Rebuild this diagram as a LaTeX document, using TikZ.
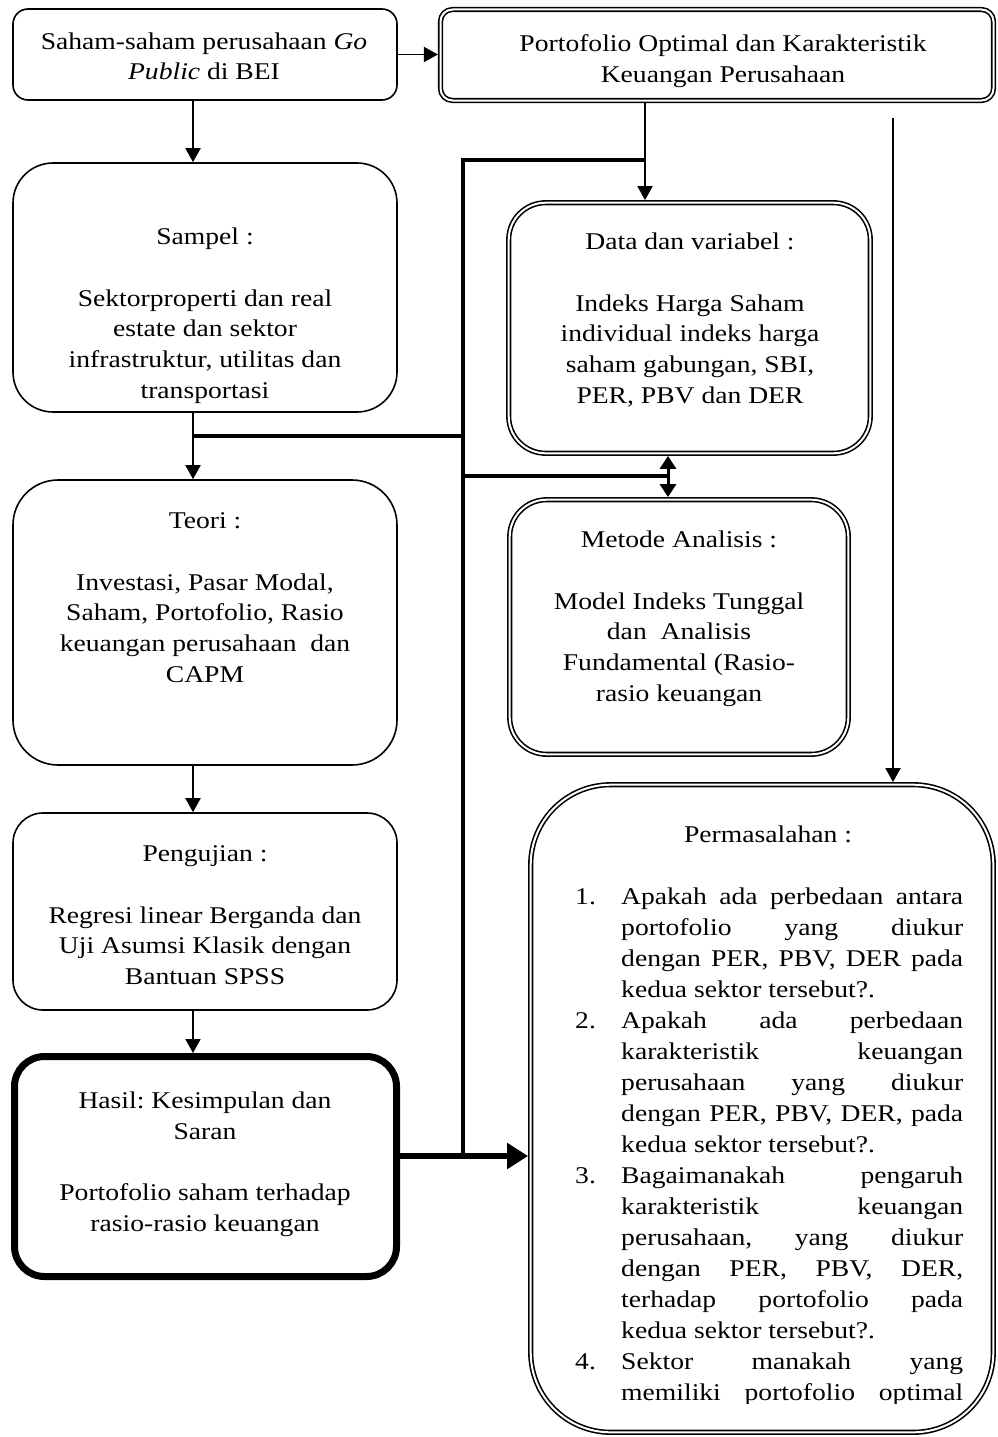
\documentclass[tikz,border=0pt]{standalone}
\usepackage{fontspec}
\setmainfont{Liberation Serif}[FakeStretch=1.15]
\usetikzlibrary{arrows.meta}
\frenchspacing
\newcommand\firstln{\rule{0pt}{20pt}}
\newcommand\jline[1]{\makebox[342pt][s]{#1}}
\newcommand\lline[1]{\makebox[342pt][l]{#1}}
\newcommand\indnt{\hspace*{46pt}}
\newcommand\numb[1]{\makebox[46pt][l]{#1}}
\begin{document}
\begin{tikzpicture}[x=1pt,y=-1pt,
  box/.style={draw, line width=1.6pt, rounded corners=#1, inner sep=0pt, outer sep=0.8pt},
  dbox/.style={draw, double, double distance=2pt, line width=1.6pt, rounded corners=#1, inner sep=0pt, outer sep=2.6pt},
  hbox/.style={draw, line width=7pt, rounded corners=#1, inner sep=0pt, outer sep=3.5pt},
  txt/.style={font=\fontsize{24}{30.8}\selectfont, align=center, inner sep=0pt, anchor=north},
  lst/.style={font=\fontsize{24}{31}\selectfont, align=left, inner sep=0pt, anchor=north west},
  arr/.style={line width=1.9pt, -{Triangle[length=14pt,width=15pt]}},
  bus/.style={line width=4pt},
  darr/.style={line width=3pt, {Triangle[length=13pt,width=16pt]}-{Triangle[length=13pt,width=16pt]}},
  bigarr/.style={line width=6.5pt, -{Triangle[length=21pt,width=25pt]}}
]
\useasboundingbox (0,0) rectangle (997,1437);

% boxes
\node[box=15pt, minimum width=384pt, minimum height=91pt] (b1) at (205,54.5) {};
\node[dbox=12pt, minimum width=553pt, minimum height=91pt] (b2) at (717,55) {};
\node[box=40pt, minimum width=384pt, minimum height=249pt] (sampel) at (205,287.5) {};
\node[box=45pt, minimum width=384pt, minimum height=285pt] (teori) at (205,622.5) {};
\node[box=30pt, minimum width=384pt, minimum height=197pt] (peng) at (205,911.5) {};
\node[hbox=30pt, minimum width=382pt, minimum height=220pt] (hasil) at (205.5,1166.5) {};
\node[dbox=37pt, minimum width=361.6pt, minimum height=250.6pt] (data) at (689.5,328) {};
\node[dbox=37pt, minimum width=338.6pt, minimum height=254.6pt] (metode) at (679,627) {};
\node[dbox=80pt, minimum width=462.6pt, minimum height=647.6pt] (perm) at (762,1108.5) {};

% texts
\node[txt] (t1) at (204,29) {\firstln Saham-saham perusahaan \textit{Go}\\\textit{Public} di BEI};
\node[txt] (t2) at (723,31) {\firstln Portofolio Optimal dan Karakteristik\\Keuangan Perusahaan};
\node[txt] (t3) at (205,224) {\firstln Sampel :\\[31pt]Sektorproperti dan real\\estate dan sektor\\infrastruktur, utilitas dan\\transportasi};
\node[txt] (t4) at (205,508) {\firstln Teori :\\[31pt]Investasi, Pasar Modal,\\Saham, Portofolio, Rasio\\keuangan perusahaan\ \ dan\\CAPM};
\node[txt] (t5) at (205,841) {\firstln Pengujian :\\[31pt]Regresi linear Berganda dan\\Uji Asumsi Klasik dengan\\Bantuan SPSS};
\node[txt] (t6) at (205,1088) {\firstln Hasil: Kesimpulan dan\\Saran\\[31pt]Portofolio saham terhadap\\rasio-rasio keuangan};
\node[txt] (t7) at (690,229) {\firstln Data dan variabel :\\[31pt]Indeks Harga Saham\\individual indeks harga\\saham gabungan, SBI,\\PER, PBV dan DER};
\node[txt] (t8) at (679,527) {\firstln Metode Analisis :\\[31pt]Model Indeks Tunggal\\dan\ \ Analisis\\Fundamental (Rasio-\\rasio keuangan};
\node[txt] (t9) at (768,822) {\firstln Permasalahan :};
\begin{scope}
\clip (528,850) rectangle (997,1403);
\node[lst] (t10) at (575,884) {\firstln\numb{1.}\jline{Apakah ada perbedaan antara}\\
\indnt\jline{portofolio yang diukur}\\
\indnt\jline{dengan PER, PBV, DER pada}\\
\indnt\lline{kedua sektor tersebut?.}\\
\numb{2.}\jline{Apakah ada perbedaan}\\
\indnt\jline{karakteristik keuangan}\\
\indnt\jline{perusahaan yang diukur}\\
\indnt\jline{dengan PER, PBV, DER, pada}\\
\indnt\lline{kedua sektor tersebut?.}\\
\numb{3.}\jline{Bagaimanakah pengaruh}\\
\indnt\jline{karakteristik keuangan}\\
\indnt\jline{perusahaan, yang diukur}\\
\indnt\jline{dengan PER, PBV, DER,}\\
\indnt\jline{terhadap portofolio pada}\\
\indnt\lline{kedua sektor tersebut?.}\\
\numb{4.}\jline{Sektor manakah yang}\\
\indnt\jline{memiliki portofolio optimal}};
\end{scope}

% helper coordinates
\coordinate (xl) at (193,0);
\coordinate (xv) at (463,0);
\coordinate (xa) at (645,0);
\coordinate (xb) at (668,0);
\coordinate (yA) at (0,160);
\coordinate (yB) at (0,436);
\coordinate (yC) at (0,476);
\coordinate (yD) at (0,1156);
\coordinate (r0) at (893,118);

% connectors
\draw[arr] (b1.east) -- (b1.east -| b2.west);
\draw[arr] (b1.south -| xl) -- (sampel.north -| xl);
\draw[arr] (sampel.south -| xl) -- (teori.north -| xl);
\draw[arr] (teori.south -| xl) -- (peng.north -| xl);
\draw[arr] (peng.south -| xl) -- (hasil.north -| xl);
\draw[bus] (xl |- yB) -- (xv |- yB);
\draw[bus, line join=miter] (xa |- yA) -- (xv |- yA) -- (xv |- yD);
\draw[bus] (xv |- yC) -- (xb |- yC);
\draw[arr] (b2.south -| xa) -- (data.north -| xa);
\draw[darr] (data.south -| xb) -- (metode.north -| xb);
\draw[arr] (r0) -- (r0 |- perm.north);
\draw[bigarr] (hasil.east |- yD) -- (perm.west |- yD);
\end{tikzpicture}
\end{document}
